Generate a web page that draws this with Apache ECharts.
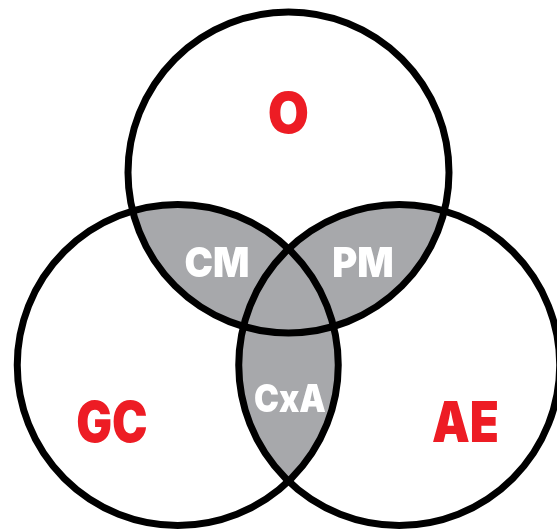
<!DOCTYPE html>
<html><head><meta charset="utf-8">
<script src="https://cdn.jsdelivr.net/npm/echarts@6/dist/echarts.min.js"></script>
<style>html,body{margin:0;padding:0;background:#fff}#c{width:557px;height:529px}</style>
</head><body><div id="c"></div>
<script>
// ---- Venn data (abstract units, circle radius = 1) ----
const setNames = ['O', 'GC', 'AE'];
const setX = [0, -0.69, 0.69];
const setY = [1.2, 0, 0];
const setRadius = [1, 1, 1];
const setLabelX = [0, -1.10, 1.103];
const setLabelY = [1.561, -0.364, -0.361];

const overlapNames = ['CM', 'PM', 'CxA'];
const overlapA = [0, 0, 1];
const overlapB = [1, 2, 2];
const overlapLabelX = [-0.446, 0.464, 0.009];
const overlapLabelY = [0.629, 0.629, -0.218];

const RED = '#ed1c24', GRAY = '#a7a8ab', LINE = '#000000';
const FONT_FAMILY = 'Inter, "Liberation Sans", Arial, sans-serif';

const chart = echarts.init(document.getElementById('c'), null, {renderer: 'canvas'});

function lensPoints(api, i, j) {
  const c1 = api.coord([setX[i], setY[i]]);
  const c2 = api.coord([setX[j], setY[j]]);
  const r1 = api.size([setRadius[i], 0])[0];
  const r2 = api.size([setRadius[j], 0])[0];
  const dx = c2[0] - c1[0], dy = c2[1] - c1[1];
  const d = Math.sqrt(dx * dx + dy * dy);
  const a1 = (r1 * r1 - r2 * r2 + d * d) / (2 * d);
  const a2 = d - a1;
  const al1 = Math.acos(a1 / r1), al2 = Math.acos(a2 / r2);
  const p1 = Math.atan2(dy, dx), p2 = Math.atan2(-dy, -dx);
  const pts = [];
  const N = 120;
  for (let k = 0; k <= N; k++) {
    const t = p1 - al1 + 2 * al1 * k / N;
    pts.push([c1[0] + r1 * Math.cos(t), c1[1] + r1 * Math.sin(t)]);
  }
  for (let k = 0; k <= N; k++) {
    const t = p2 - al2 + 2 * al2 * k / N;
    pts.push([c2[0] + r2 * Math.cos(t), c2[1] + r2 * Math.sin(t)]);
  }
  return pts;
}

const option = {
  animation: false,
  backgroundColor: '#ffffff',
  grid: {left: 0, right: 0, top: 0, bottom: 0},
  xAxis: {type: 'value', min: -1.7975, max: 1.6729, show: false},
  yAxis: {type: 'value', min: -1.0218, max: 2.2741, show: false},
  series: [
    {
      type: 'custom', coordinateSystem: 'cartesian2d', silent: true, z: 1,
      data: overlapNames.map((n, k) => [overlapLabelX[k], overlapLabelY[k]]),
      renderItem: function (params, api) {
        const k = params.dataIndex;
        return {
          type: 'polygon',
          shape: {points: lensPoints(api, overlapA[k], overlapB[k])},
          style: {fill: GRAY, stroke: null}
        };
      }
    },
    {
      type: 'custom', coordinateSystem: 'cartesian2d', silent: true, z: 2,
      data: setNames.map((n, k) => [setX[k], setY[k], setRadius[k]]),
      renderItem: function (params, api) {
        const c = api.coord([api.value(0), api.value(1)]);
        const r = api.size([api.value(2), 0])[0];
        return {
          type: 'circle',
          shape: {cx: c[0], cy: c[1], r: r},
          style: {fill: null, stroke: LINE, lineWidth: 7}
        };
      }
    },
    {
      type: 'custom', coordinateSystem: 'cartesian2d', silent: true, z: 3,
      data: setNames.map((n, k) => [setLabelX[k], setLabelY[k]]),
      renderItem: function (params, api) {
        const k = params.dataIndex;
        const p = api.coord([api.value(0), api.value(1)]);
        return {
          type: 'text', x: p[0], y: p[1] + 2, scaleX: k === 0 ? 0.95 : 0.85,
          style: {text: setNames[k], fill: RED, font: '900 56px ' + FONT_FAMILY,
                  align: 'center', verticalAlign: 'middle'}
        };
      }
    },
    {
      type: 'custom', coordinateSystem: 'cartesian2d', silent: true, z: 3,
      data: overlapNames.map((n, k) => [overlapLabelX[k], overlapLabelY[k]]),
      renderItem: function (params, api) {
        const k = params.dataIndex;
        const p = api.coord([api.value(0), api.value(1)]);
        return {
          type: 'text', x: p[0], y: p[1] + 1, scaleX: k === 2 ? 0.88 : 0.93,
          style: {text: overlapNames[k], fill: '#ffffff',
                  font: '900 ' + (k === 2 ? 38 : 41) + 'px ' + FONT_FAMILY,
                  align: 'center', verticalAlign: 'middle'}
        };
      }
    }
  ]
};
chart.setOption(option);
</script>
</body></html>
